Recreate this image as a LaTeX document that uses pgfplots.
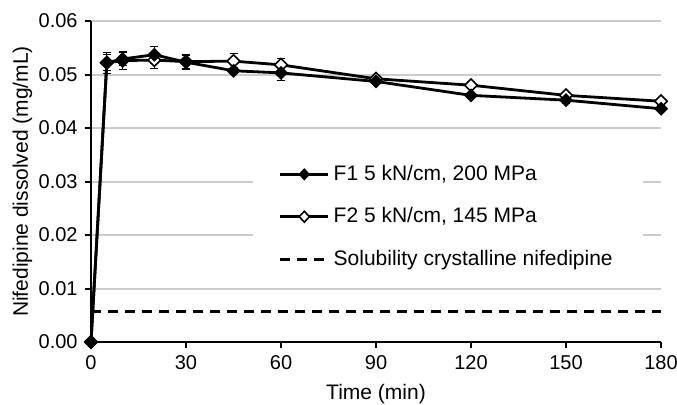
\documentclass[border=0pt]{standalone}
\usepackage{fontspec}
\setmainfont{Liberation Sans}
\usepackage{pgfplots}
\pgfplotsset{compat=1.18}
\usepackage{pgfplotstable}

\pgfplotstableread{
t      y       e
0      0       0
5      0.0522  0.0020
10     0.0529  0.0012
20     0.0537  0.0016
30     0.0523  0.0012
45     0.0507  0.0006
60     0.0503  0.0015
90     0.0487  0.0005
120    0.0461  0.0006
150    0.0452  0.0006
180    0.0436  0.0006
}\fone

\pgfplotstableread{
t      y       e
0      0       0
5      0.0522  0.0015
10     0.0526  0.0017
20     0.0527  0.0015
30     0.0524  0.0014
45     0.0525  0.0014
60     0.0518  0.0012
90     0.0492  0.0005
120    0.0480  0.0006
150    0.0461  0.0006
180    0.0450  0.0006
}\ftwo

\begin{document}
\fontsize{10.5}{12}\selectfont
\begin{tikzpicture}
\begin{axis}[
  width=285pt, height=160.5pt,
  scale only axis,
  xmin=0, xmax=180, ymin=0, ymax=0.06,
  xtick={0,30,...,180},
  ytick={0,0.01,0.02,0.03,0.04,0.05,0.06},
  scaled y ticks=false,
  yticklabel style={/pgf/number format/fixed, /pgf/number format/fixed zerofill, /pgf/number format/precision=2},
  /pgf/number format/assume math mode=true,
  ticklabel style={font=\fontsize{10}{12}\selectfont},
  label style={font=\fontsize{10.5}{12}\selectfont},
  axis lines=left,
  axis line style={-, black, line width=1.3pt},
  tick style={black, line width=1pt},
  tick align=outside,
  major tick length=3pt,
  ymajorgrids,
  grid style={gray!40, line width=1pt},
  xlabel={Time (min)},
  ylabel={Nifedipine dissolved (mg/mL)},
  ylabel style={yshift=-4pt},
  legend cell align=left,
  legend style={at={(axis cs:51,0.0350)}, anchor=north west, draw=none, fill=white,
    font=\fontsize{10.5}{12}\selectfont, row sep=8pt,
    inner xsep=13pt, inner ysep=3pt},
  legend image code/.code={\draw[mark repeat=2, mark phase=2] plot coordinates {(0cm,0cm) (0.42cm,0cm) (0.84cm,0cm)};},
  clip=false,
]
\coordinate (sw) at (rel axis cs:0,0);
\coordinate (ne) at (rel axis cs:1,1);
% legend entries
\addlegendimage{black, line width=1.4pt, mark=diamond*, mark size=3.4pt, mark options={solid, yscale=0.8, fill=black, line width=0.5pt}}
\addlegendentry{F1 5 kN/cm, 200 MPa}
\addlegendimage{black, line width=1.4pt, mark=diamond*, mark size=3.4pt, mark options={solid, yscale=0.8, fill=white, line width=0.8pt}}
\addlegendentry{F2 5 kN/cm, 145 MPa}
\addlegendimage{black, line width=1.5pt, dash pattern=on 5pt off 3.5pt, mark=none}
\addlegendentry{Solubility crystalline nifedipine}
% data
\addplot[forget plot, black, line width=1.4pt, dash pattern=on 5pt off 3.5pt, mark=none] coordinates {(0,0.0057) (180,0.0057)};
\addplot[forget plot, black, line width=1.4pt, mark=diamond*, mark size=4.2pt, mark options={solid, yscale=0.75, fill=white, line width=0.8pt},
  error bars/.cd, y dir=both, y explicit, error bar style={line width=0.5pt, black}, error mark options={rotate=90, mark size=2pt, line width=0.5pt}]
  table[x=t, y=y, y error=e] {\ftwo};
\addplot[forget plot, black, line width=1.4pt, mark=diamond*, mark size=4.2pt, mark options={solid, yscale=0.75, fill=black, line width=0.5pt},
  error bars/.cd, y dir=both, y explicit, error bar style={line width=0.5pt, black}, error mark options={rotate=90, mark size=2pt, line width=0.5pt}]
  table[x=t, y=y, y error=e] {\fone};
\end{axis}
\pgfresetboundingbox
\path ([shift={(-45.5pt,-31.5pt)}]sw) rectangle ([shift={(8pt,10.5pt)}]ne);
\end{tikzpicture}
\end{document}
